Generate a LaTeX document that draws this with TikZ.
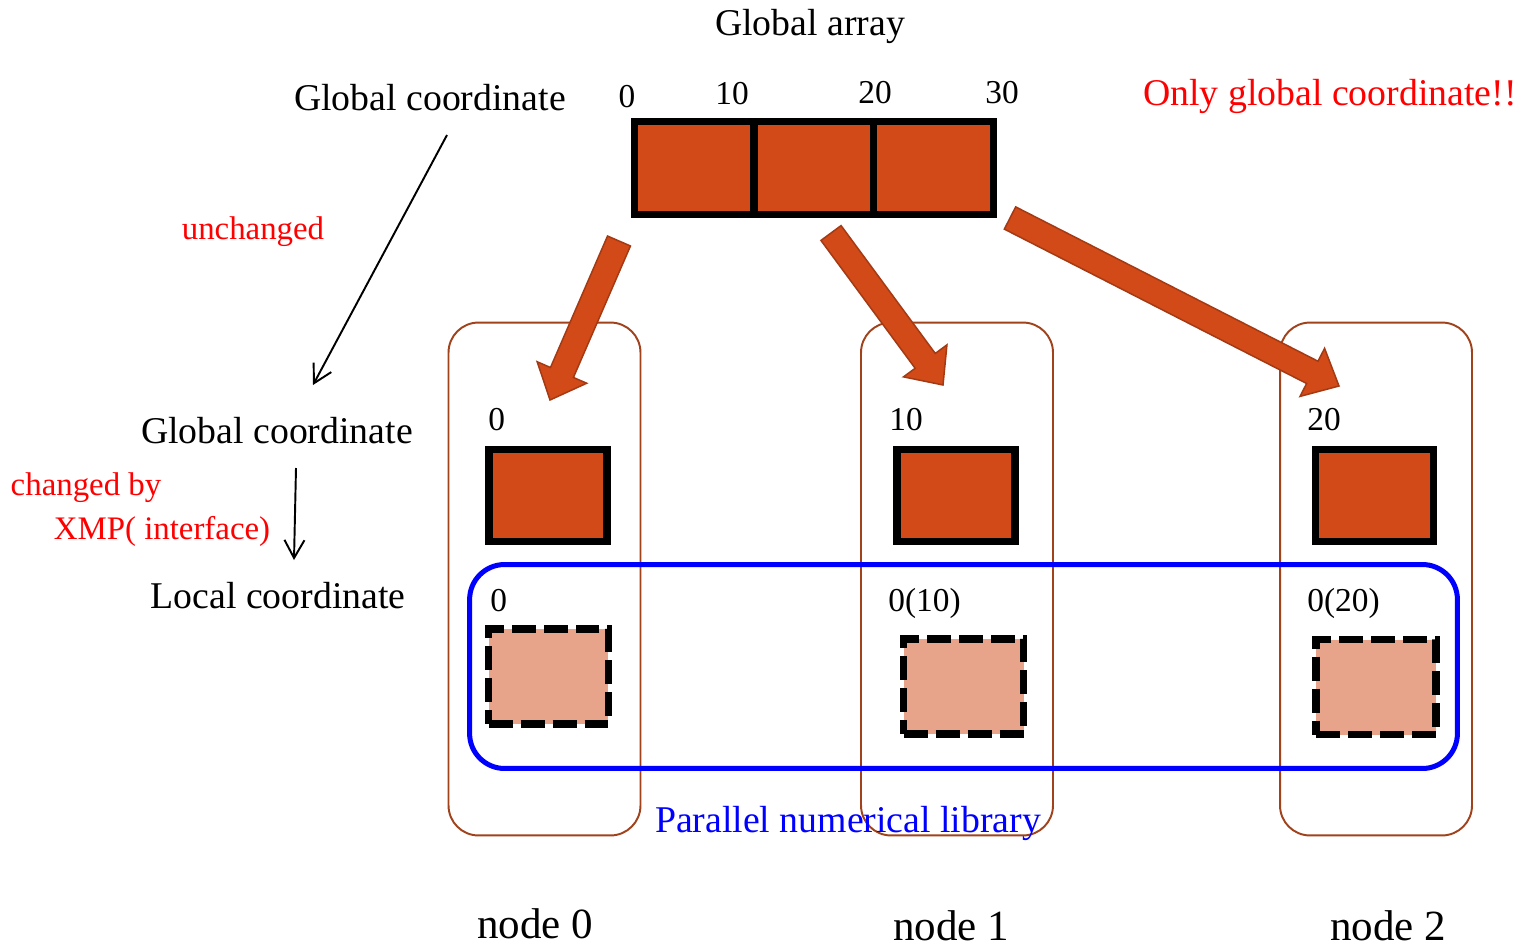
\documentclass[tikz,border=0pt]{standalone}
\usepackage{fontspec}
\setmainfont{Liberation Serif}
\usepackage{tikz}
\usetikzlibrary{positioning, calc, arrows.meta}
\definecolor{cellfill}{HTML}{D14A18}
\definecolor{localfill}{HTML}{E8A48A}
\definecolor{arrowline}{HTML}{A33A14}
\definecolor{nodeline}{HTML}{A0421C}
\tikzset{node distance=0pt,
	lbl/.style={font=\fontsize{21.5pt}{26pt}\selectfont, inner sep=0pt, anchor=base},
	num/.style={font=\fontsize{19pt}{23pt}\selectfont, inner sep=0pt, anchor=base},
	note/.style={font=\fontsize{18.7pt}{22pt}\selectfont, text=red, inner sep=0pt, anchor=base},
	nodename/.style={font=\fontsize{24.5pt}{29pt}\selectfont, inner sep=0pt, anchor=base},
	cell/.style={draw, line width=4pt, fill=cellfill, inner sep=0pt, outer sep=0pt,
		minimum width=2.4cm, minimum height=1.86cm},
	block/.style={draw, line width=4.3pt, fill=cellfill, inner sep=0pt,
		minimum width=2.36cm, minimum height=1.84cm},
	localblock/.style={draw, line width=4.5pt, fill=localfill, inner sep=0pt,
		dash pattern=on 0.48cm off 0.16cm, minimum width=2.4cm, minimum height=1.9cm},
	column/.style={draw=nodeline, line width=1.1pt, rounded corners=0.6cm,
		minimum width=3.84cm, minimum height=10.26cm},
	library/.style={draw=blue, line width=2.85pt, rounded corners=0.7cm,
		minimum width=19.76cm, minimum height=4.08cm},
	fatarrow/.style={fill=cellfill, draw=arrowline, line width=0.85pt},
	>={Straight Barb[length=0.36cm, width=0.4cm]},
	thin/.style={->, line width=1.1pt}}

% block arrow from #1 (tail) to #2 (tip)
\newcommand{\fatarrow}[2]{%
	\coordinate (fa-c) at ($(#2)!0.6cm!(#1)$);
	\filldraw[fatarrow] ($(#1)!0.25cm!90:(#2)$) -- ($(fa-c)!0.25cm!90:(#2)$)
		-- ($(fa-c)!0.54cm!90:(#2)$) -- (#2) -- ($(fa-c)!0.54cm!-90:(#2)$)
		-- ($(fa-c)!0.25cm!-90:(#2)$) -- ($(#1)!0.25cm!-90:(#2)$) -- cycle;}

\begin{document}
\begin{tikzpicture}[x=0.02cm, y=-0.02cm]
    \useasboundingbox (0,0) rectangle (1524,950);

    % compute nodes
    \node[column] (n0) at (544.5,579) {};
    \node[column] (n1) at (957,579) {};
    \node[column] (n2) at (1376,579) {};
    \node[library] (lib) at (963.5,666.5) {};

    % global array
    \node[lbl] (ga) at (810,35) {Global array};
    \node[cell] (g0) at (694,168) {};
    \node[cell, right=of g0] (g1) {};
    \node[cell, right=of g1] (g2) {};
    \node[num] (i0) at (627,107) {0};
    \node[num] (i10) at (732,104) {10};
    \node[num] (i20) at (875,103) {20};
    \node[num] (i30) at (1002,103) {30};

    % texts on the left
    \node[lbl] (gc) at (430,110) {Global coordinate};
    \node[lbl, text=red] (only) at (1330,105) {Only global coordinate!!};
    \node[note] (unch) at (253,239) {unchanged};
    \node[lbl] (gcl) at (277,443) {Global coordinate};
    \node[note] (chg) at (86,495) {changed by};
    \node[note] (xmp) at (162,539) {XMP( interface)};
    \node[lbl] (loc) at (278,608) {Local coordinate};

    \coordinate (a0) at (447,135);
    \coordinate (a1) at (313,385);
    \coordinate (b0) at (296,468);
    \coordinate (b1) at (294,560);
    \draw[thin] (a0) -- (a1);
    \draw[thin] (b0) -- (b1);

    % global blocks per node
    \node[block] (sb0) at (548,495.5) {};
    \node[block] (sb1) at (956,495.5) {};
    \node[block] (sb2) at (1374.5,495.5) {};
    \node[num, anchor=base west] (s0) at (488,430) {0};
    \node[num, anchor=base west] (s10) at (889,430) {10};
    \node[num, anchor=base west] (s20) at (1307,430) {20};

    % local blocks per node
    \node[localblock] (lb0) at (548.5,676.5) {};
    \node[localblock] (lb1) at (963.5,686.5) {};
    \node[localblock] (lb2) at (1376,687) {};
    \node[num, anchor=base west] (l0) at (490,611) {0};
    \node[num, anchor=base west] (l10) at (888,611) {0(10)};
    \node[num, anchor=base west] (l20) at (1307,611) {0(20)};

    \node[lbl, text=blue] (plib) at (848,832) {Parallel numerical library};

    \node[nodename] (name0) at (535,938) {node 0};
    \node[nodename] (name1) at (951,940) {node 1};
    \node[nodename] (name2) at (1388,940) {node 2};

    % distribution arrows
    \coordinate (t0) at (619,241);
    \coordinate (h0) at (550,400);
    \coordinate (t1) at (831,233);
    \coordinate (h1) at (943,385);
    \coordinate (t2) at (1010,218);
    \coordinate (h2) at (1339,386);
    \fatarrow{t0}{h0}
    \fatarrow{t1}{h1}
    \fatarrow{t2}{h2}
\end{tikzpicture}
\end{document}
